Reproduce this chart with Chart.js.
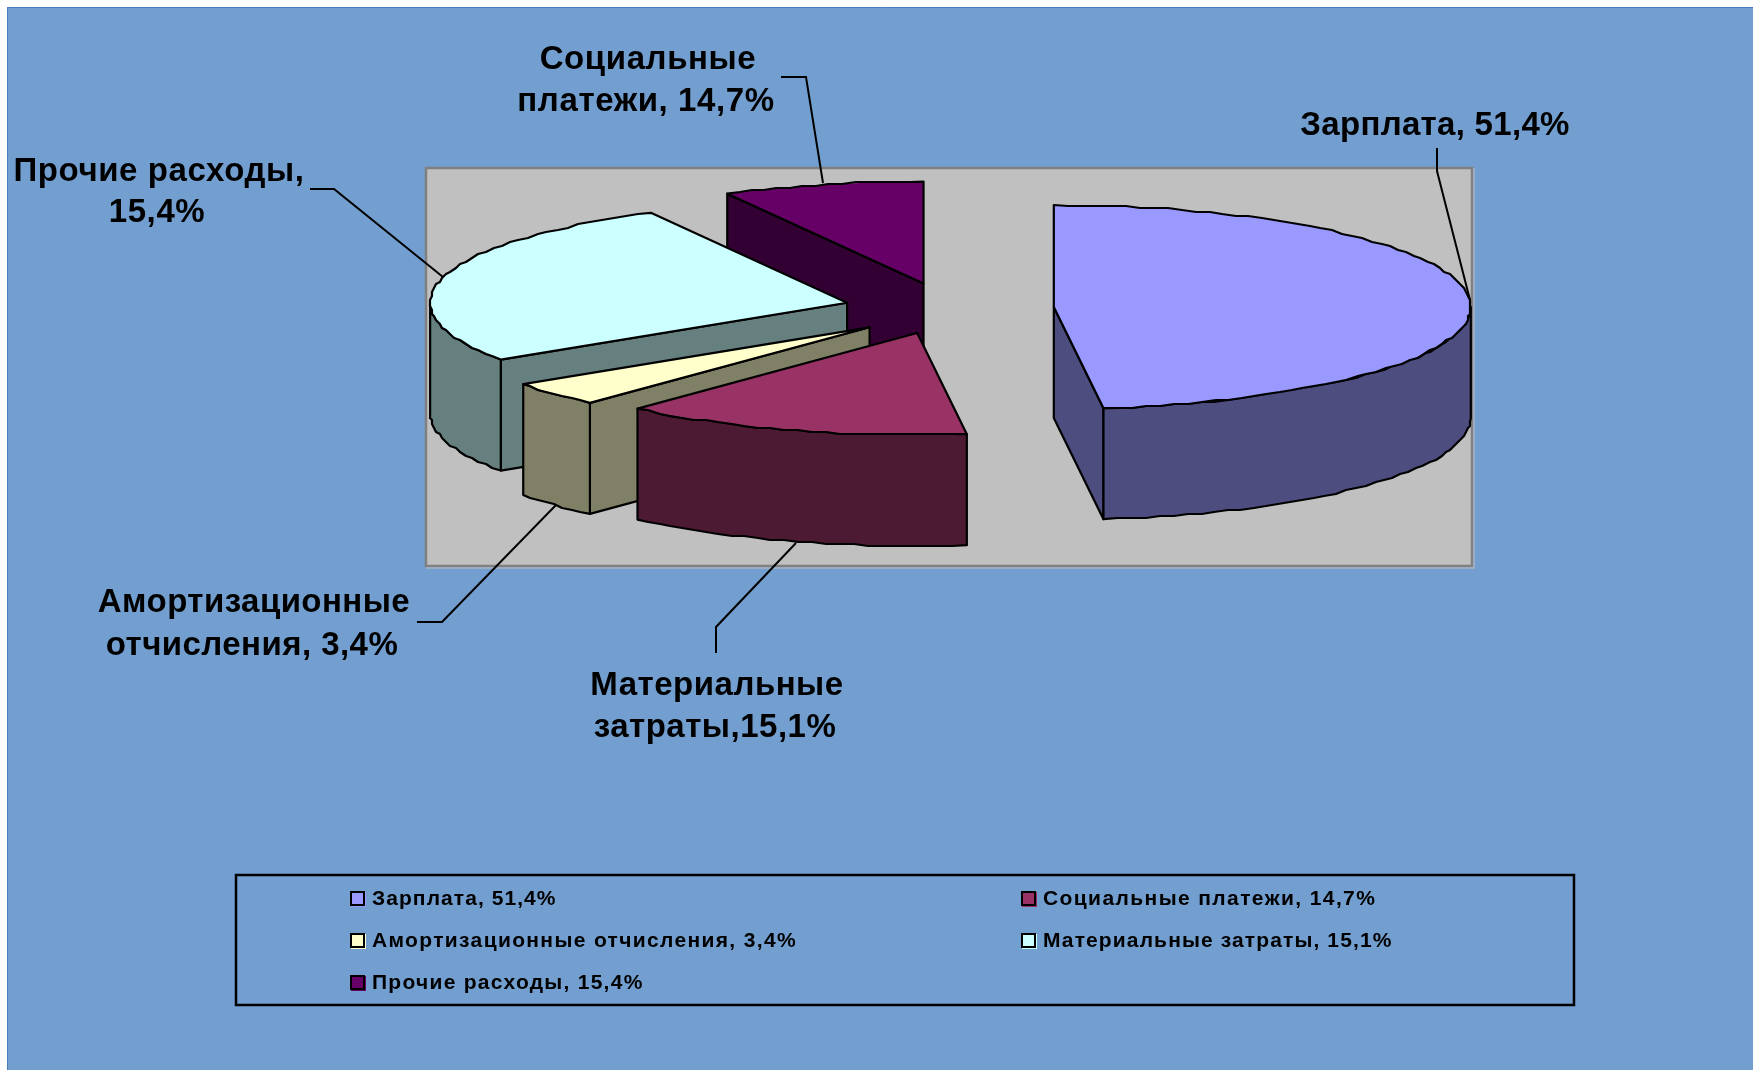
<!DOCTYPE html>
<html lang="ru">
<head>
<meta charset="utf-8">
<title>Структура расходов</title>
<script src="https://cdn.jsdelivr.net/npm/chart.js@4/dist/chart.umd.js"></script>
<style>html,body{margin:0;padding:0;background:#fff}canvas{display:block}</style>
</head>
<body>
<canvas id="c" width="1753" height="1070"></canvas>
<script>
// Slice order is clockwise from 12 o'clock, as in the legend.
const categories = ['Зарплата, 51,4%', 'Социальные платежи, 14,7%', 'Амортизационные отчисления, 3,4%', 'Материальные затраты, 15,1%', 'Прочие расходы, 15,4%'];
const sliceShares = [48.1, 13.6, 3.9, 26.6, 7.8];
const topColors = ['#9999FF', '#993366', '#FFFFCC', '#CCFFFF', '#660066'];
const sideColors = ['#4D4D80', '#4D1A33', '#808066', '#668080', '#330033'];
const explode = [105, 105, 105, 105, 105];
const explodeDrop = [0, 0, 2, 0.5, 0];
const paintOrder = [0, 4, 3, 2, 1];

const calloutLines = [
  ['Социальные', 'платежи, 14,7%'],
  ['Зарплата, 51,4%'],
  ['Прочие расходы,', '15,4%'],
  ['Амортизационные', 'отчисления, 3,4%'],
  ['Материальные', 'затраты,15,1%']
];
const calloutCentres = [[[648, 60], [646, 102]], [[1435, 126]], [[159, 172], [157, 213]], [[254, 603], [252, 646]], [[717, 686], [715, 728]]];
const calloutTracking = [0.6, 0.3, 0.6, 0.45, 0.5];
const calloutLeaders = [
  [[781, 77], [806, 77], [823, 183]],
  [[1437, 148], [1437, 171], [1470, 300]],
  [[310, 189], [334, 189], [443, 277]],
  [[417, 622], [442, 622], [556, 505]],
  [[716, 653], [716, 627], [796, 543]]
];
const legendCells = [[351, 899], [1022, 899], [351, 941], [1022, 941], [351, 983]];
const legendTracking = [1.07, 1.4, 1.35, 1.12, 1.27];

const TILT = 0.2445, DEPTH = 111;
const RADIUS = 417;
const FONT = '"Liberation Sans", Arial, sans-serif';

function offsetOf(arc, i) {
  const m = (arc.startAngle + arc.endAngle) / 2;
  return [explode[i] * Math.cos(m), explode[i] * Math.sin(m) * TILT + explodeDrop[i]];
}
function rim(arc, i, a, b, drop) {
  const [dx, dy] = offsetOf(arc, i), pts = [];
  const n = Math.max(2, Math.ceil((b - a) / 0.035));
  for (let s = 0; s <= n; s++) {
    const t = a + (b - a) * s / n;
    let x = arc.x + dx + arc.outerRadius * Math.cos(t);
    let y = arc.y + dy + arc.outerRadius * Math.sin(t) * TILT + drop;
    if (s > 0 && s < n) { x = Math.round(x / 2) * 2; y = Math.round(y / 2) * 2; }
    pts.push([x, y]);
  }
  return pts;
}
function poly(ctx, pts, fill) {
  ctx.beginPath();
  pts.forEach((p, k) => k ? ctx.lineTo(p[0], p[1]) : ctx.moveTo(p[0], p[1]));
  ctx.closePath();
  if (fill) { ctx.fillStyle = fill; ctx.fill(); }
  ctx.lineWidth = 2.2; ctx.strokeStyle = '#000'; ctx.lineJoin = 'round'; ctx.stroke();
}
function radialFace(ctx, arc, i, ang, col) {
  const [dx, dy] = offsetOf(arc, i);
  const ax = arc.x + dx, ay = arc.y + dy;
  const ex = ax + arc.outerRadius * Math.cos(ang), ey = ay + arc.outerRadius * Math.sin(ang) * TILT;
  poly(ctx, [[ax, ay], [ex, ey], [ex, ey + DEPTH], [ax, ay + DEPTH]], col);
}

const pie3d = {
  id: 'pie3d',
  beforeDraw(chart) {
    const c = chart.ctx;
    c.save();
    c.fillStyle = '#fff'; c.fillRect(0, 0, 1753, 1070);
    c.fillStyle = '#729FCF'; c.fillRect(7, 7, 1746, 1063);
    c.strokeStyle = '#4A7EBB'; c.lineWidth = 1;
    c.beginPath(); c.moveTo(7.5, 1070); c.lineTo(7.5, 7.5); c.lineTo(1753, 7.5); c.stroke();
    c.fillStyle = '#C0C0C0'; c.fillRect(426, 168, 1046, 398);
    c.strokeStyle = '#808080'; c.lineWidth = 2.5; c.strokeRect(426, 168, 1046, 398);
    c.strokeStyle = '#A8B4C4'; c.lineWidth = 1.5;
    c.beginPath(); c.moveTo(1474, 168); c.lineTo(1474, 568); c.lineTo(426, 568); c.stroke();
    c.restore();
  },
  beforeDatasetDraw() { return false; },
  afterDatasetsDraw(chart) {
    const c = chart.ctx, arcs = chart.getDatasetMeta(0).data;
    paintOrder.forEach(i => {
      const arc = arcs[i], a = arc.startAngle, b = arc.endAngle;
      c.save();
      // visible radial faces
      if (Math.cos(a) < -1e-6) radialFace(c, arc, i, a, sideColors[i]);
      if (Math.cos(b) > 1e-6) radialFace(c, arc, i, b, sideColors[i]);
      // outer wall: only the part facing the viewer
      const from = Math.max(a, 0), to = Math.min(b, Math.PI);
      if (to > from) {
        const top = rim(arc, i, from, to, 0), bottom = rim(arc, i, from, to, DEPTH).reverse();
        poly(c, top.concat(bottom), sideColors[i]);
      }
      // top face: drawn by the library's own arc element, flattened
      const [dx, dy] = offsetOf(arc, i);
      c.save();
      c.translate(arc.x + dx, arc.y + dy);
      c.scale(1, TILT);
      c.translate(-arc.x, -arc.y);
      arc.draw(c);
      c.restore();
      poly(c, [[arc.x + dx, arc.y + dy]].concat(rim(arc, i, a, b, 0)), null);
      c.restore();
    });
  },
  afterDraw(chart) {
    const c = chart.ctx;
    c.save();
    // callouts
    c.textAlign = 'center'; c.textBaseline = 'middle'; c.fillStyle = '#000';
    c.font = 'bold 33px ' + FONT;
    calloutLines.forEach((lines, i) => {
      c.letterSpacing = calloutTracking[i] + 'px';
      lines.forEach((t, k) => c.fillText(t, calloutCentres[i][k][0], calloutCentres[i][k][1]));
    });
    c.strokeStyle = '#000'; c.lineWidth = 2;
    calloutLeaders.forEach(l => { c.beginPath(); l.forEach((p, k) => k ? c.lineTo(p[0], p[1]) : c.moveTo(p[0], p[1])); c.stroke(); });
    // legend
    c.lineWidth = 2.5; c.strokeRect(236, 875, 1338, 130);
    c.textAlign = 'left'; c.font = 'bold 21px ' + FONT;
    categories.forEach((t, i) => {
      const [x, y] = legendCells[i];
      c.fillStyle = topColors[i]; c.fillRect(x, y - 7, 15, 15);
      c.strokeStyle = '#000'; c.lineWidth = 2; c.strokeRect(x, y - 7, 13, 13);
      c.letterSpacing = legendTracking[i] + 'px';
      c.fillStyle = '#000'; c.fillText(t, x + 21, y);
    });
    c.restore();
  }
};

new Chart(document.getElementById('c'), {
  type: 'pie',
  data: { labels: categories, datasets: [{ data: sliceShares, backgroundColor: topColors, borderWidth: 0, radius: RADIUS }] },
  options: {
    responsive: false, animation: false, events: [],
    layout: { padding: { left: 145, right: 0, top: 0, bottom: 453 } },
    plugins: { legend: { display: false }, tooltip: { enabled: false }, title: { display: false } }
  },
  plugins: [pie3d]
});
</script>
</body>
</html>
